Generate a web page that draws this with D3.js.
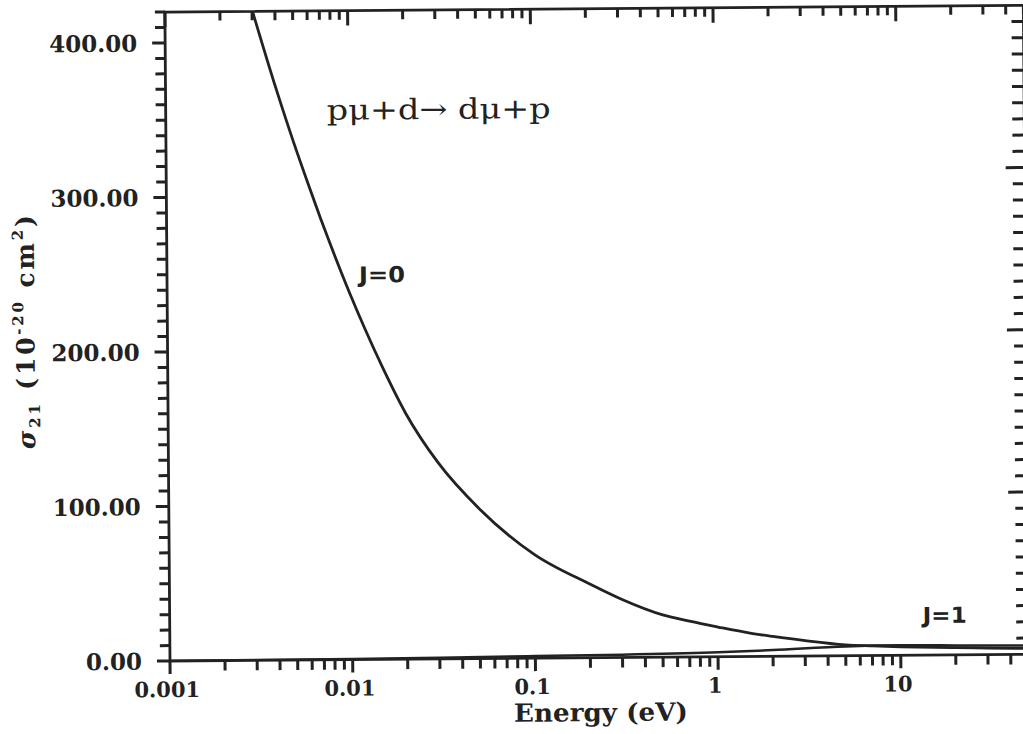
<!DOCTYPE html>
<html>
<head>
<meta charset="utf-8">
<script src="https://cdn.jsdelivr.net/npm/d3@7/dist/d3.min.js"></script>
<style>
  html, body { margin: 0; padding: 0; background: #fff; }
  svg { display: block; }
  text { fill: #222; }
</style>
</head>
<body>
<svg id="chart" width="1023" height="734"></svg>
<script>
// Cross section σ21 for pμ + d → dμ + p, J=0 and J=1, versus collision energy
const energyJ0 = [0.003, 0.004, 0.005, 0.006, 0.007, 0.008, 0.01, 0.012, 0.015, 0.02,
                  0.03, 0.05, 0.1, 0.2, 0.3, 0.5, 0.7, 1, 1.5, 2,
                  3, 5, 7, 10, 20, 30, 50];
const sigmaJ0  = [421, 371, 335, 307.5, 285, 266.4, 236.9, 214.5, 188.9, 159,
                  126.8, 97, 67, 47.7, 37.5, 27.3, 23.1, 19.2, 15.1, 12.8,
                  9.9, 7.0, 6.2, 5.5, 4.6, 4.2, 3.8];

const energyJ1 = [0.001, 0.003, 0.01, 0.03, 0.1, 0.3, 1, 2, 5, 10, 20, 50];
const sigmaJ1  = [0.05, 0.15, 0.4, 0.8, 1.3, 1.8, 2.8, 4.0, 6.0, 6.4, 6.1, 5.6];

const xMajorTicks = [0.001, 0.01, 0.1, 1, 10];
const xTickLabels = ["0.001", "0.01", "0.1", "1", "10"];
const yMajorTicks = [0, 100, 200, 300, 400];
const yTickLabels = ["0.00", "100.00", "200.00", "300.00", "400.00"];

const curveLabels = ["J=0", "J=1"];
const titleText = "pμ+d→ dμ+p";
const xTitle = "Energy (eV)";

const ink = "#222";
const svg = d3.select("#chart");
// the whole plate sits very slightly rotated
const g = svg.append("g").attr("transform", "rotate(-0.45,170,661)");

const x = d3.scaleLog().domain([0.001, 50]).range([170, 1028.5]);
const y = d3.scaleLinear().domain([0, 420]).range([661, 12]);
const yRight = d3.scaleLinear().domain([0, 400]).range([661, 12]);

const [xLeft, xRightEdge] = x.range();
const [yBottom, yTop] = y.range();

// minor tick values for the log axis
const xMinor = [];
for (let d = 0.001; d < 50; d *= 10) {
  for (let k = 2; k <= 9; k++) { const v = d * k; if (v <= 50) xMinor.push(v); }
}
const yMinor = d3.range(10, 421, 10).filter(v => v % 100 !== 0);
const yRightMinor = d3.range(10, 401, 10).filter(v => v % 100 !== 0);

// frame
g.append("path")
  .attr("d", `M${xLeft},${yBottom}L${xLeft},${yTop}L${xRightEdge},${yTop}L${xRightEdge},${yBottom}Z`)
  .attr("fill", "none").attr("stroke", ink).attr("stroke-width", 2.8);

// tick marks, each set as one path built from the scales
function tickPath(d) {
  g.append("path").attr("d", d)
    .attr("fill", "none").attr("stroke", ink).attr("stroke-width", 3);
}
const vMarks = (vals, base, len) => vals.map(v => `M${x(v)},${base}v${len}`).join("");
const hMarks = (vals, sc, base, len) => vals.map(v => `M${base},${sc(v)}h${len}`).join("");

tickPath(vMarks(xMinor, yBottom, 10));       // bottom, outward
tickPath(vMarks(xMajorTicks, yBottom, 13));
tickPath(vMarks(xMinor, yTop, 9));           // top, inward
tickPath(vMarks(xMajorTicks, yTop, 15));
tickPath(hMarks(yMinor, y, xLeft, -10));      // left, outward
tickPath(hMarks(yMajorTicks, y, xLeft, -13));
tickPath(hMarks(yRightMinor, yRight, xRightEdge, -12));   // right, inward
tickPath(hMarks([100, 200, 300], yRight, xRightEdge, -19));

// tick labels
g.append("g").selectAll("text").data(yMajorTicks).join("text")
  .attr("x", 142).attr("y", d => y(d) + 8.5)
  .attr("text-anchor", "end")
  .style("font", "bold 23px 'DejaVu Serif'")
  .text((d, i) => yTickLabels[i]);

g.append("g").selectAll("text").data(xMajorTicks).join("text")
  .attr("x", d => x(d) - 3).attr("y", 697)
  .attr("text-anchor", "middle")
  .style("font", "bold 21px 'DejaVu Serif'")
  .text((d, i) => xTickLabels[i]);

// curves
g.append("clipPath").attr("id", "plotclip").append("rect")
  .attr("x", xLeft).attr("y", yTop).attr("width", xRightEdge - xLeft).attr("height", yBottom - yTop);

const line = d3.line().x(d => x(d[0])).y(d => y(d[1])).curve(d3.curveMonotoneX);
const curves = g.append("g").attr("clip-path", "url(#plotclip)");
curves.append("path").attr("d", line(d3.zip(energyJ0, sigmaJ0)))
  .attr("fill", "none").attr("stroke", ink).attr("stroke-width", 2.8);
curves.append("path").attr("d", line(d3.zip(energyJ1, sigmaJ1)))
  .attr("fill", "none").attr("stroke", ink).attr("stroke-width", 2.5);

// curve labels
g.append("text").attr("x", 362).attr("y", 284)
  .attr("textLength", 46).attr("lengthAdjust", "spacingAndGlyphs")
  .style("font", "bold 22px 'DejaVu Sans'").text(curveLabels[0]);
g.append("text").attr("x", 923).attr("y", 629)
  .attr("textLength", 44).attr("lengthAdjust", "spacingAndGlyphs")
  .style("font", "bold 22px 'DejaVu Sans'").text(curveLabels[1]);

// reaction title
g.append("text").attr("x", 331).attr("y", 121)
  .attr("textLength", 224).attr("lengthAdjust", "spacingAndGlyphs")
  .style("font", "28px 'DejaVu Serif'").text(titleText);

// x axis title
g.append("text").attr("x", 513.5).attr("y", 724.5)
  .attr("textLength", 174).attr("lengthAdjust", "spacingAndGlyphs")
  .style("font", "bold 25px 'DejaVu Serif'").text(xTitle);

// y axis title: σ21 (10^-20 cm^2)
const ytl = g.append("text")
  .attr("transform", "translate(37,448) rotate(-90)")
  .attr("textLength", 234).attr("lengthAdjust", "spacing")
  .style("font", "bold 25px 'DejaVu Serif'");
ytl.append("tspan").style("font-style", "italic").text("σ");
ytl.append("tspan").attr("dy", 5).style("font-size", "15px").text("21");
ytl.append("tspan").attr("dy", -5).text(" (10");
ytl.append("tspan").attr("dy", -11).style("font-size", "15px").text("-20");
ytl.append("tspan").attr("dy", 11).text(" cm");
ytl.append("tspan").attr("dy", -11).style("font-size", "15px").text("2");
ytl.append("tspan").attr("dy", 11).text(")");
</script>
</body>
</html>
